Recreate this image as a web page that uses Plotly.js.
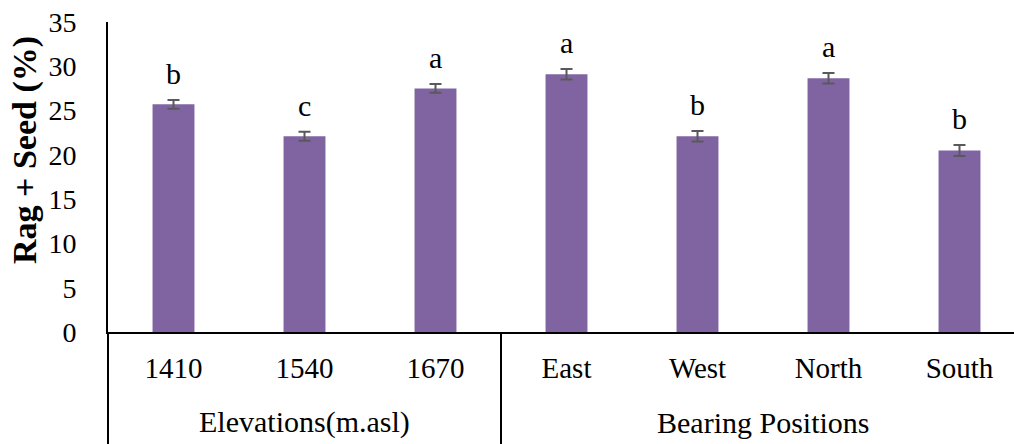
<!DOCTYPE html>
<html>
<head>
<meta charset="utf-8">
<script src="https://cdn.plot.ly/plotly-3.0.1.min.js"></script>
<style>html,body{margin:0;padding:0;background:#fff;}#chart{width:1014px;height:444px;}</style>
</head>
<body>
<div id="chart"></div>
<script>
const categories = ["1410", "1540", "1670", "East", "West", "North", "South"];
const values = [25.7, 22.1, 27.5, 29.1, 22.1, 28.65, 20.5];
const errors = [0.5, 0.5, 0.5, 0.6, 0.6, 0.6, 0.62];
const letters = ["b", "c", "a", "a", "b", "a", "b"];
const groups = ["Elevations(m.asl)", "Bearing Positions"];
const groupCenters = [1, 4.5];
const groupDivider = 2.5;

const FONT = "Liberation Serif";
const xIdx = categories.map((c, i) => i);

const trace = {
  type: "bar",
  x: xIdx,
  y: values,
  width: 0.32,
  marker: {color: "#8064A2"},
  error_y: {type: "data", array: errors, visible: true, color: "#595959", thickness: 2, width: 6},
  hoverinfo: "skip"
};

const annotations = [];
letters.forEach((l, i) => {
  annotations.push({
    x: i, y: values[i] + errors[i], xref: "x", yref: "y",
    text: l, showarrow: false, yanchor: "bottom", yshift: 8,
    font: {family: FONT, size: 30, color: "#000"}
  });
});
groups.forEach((g, i) => {
  annotations.push({
    x: groupCenters[i], y: 0, xref: "x", yref: "paper",
    text: g, showarrow: false, yanchor: "middle", yshift: -90,
    font: {family: FONT, size: 30, color: "#000"}
  });
});
annotations.push({
  x: 0, y: 0.587, xref: "paper", yref: "paper", xshift: -83,
  text: "<b>Rag + Seed (%)</b>", textangle: -90, showarrow: false,
  xanchor: "center", yanchor: "middle",
  font: {family: FONT, size: 34, color: "#000"}
});

const layout = {
  width: 1014, height: 444,
  margin: {l: 108, r: 0, t: 22, b: 112},
  paper_bgcolor: "#fff", plot_bgcolor: "#fff",
  showlegend: false,
  font: {family: FONT, color: "#000"},
  xaxis: {
    range: [-0.5, 6.416],
    tickvals: xIdx, ticktext: categories,
    showgrid: false, zeroline: false,
    showline: true, linecolor: "#000", linewidth: 2,
    ticks: "", ticklabelstandoff: 9,
    tickfont: {family: FONT, size: 29, color: "#000"}
  },
  yaxis: {
    range: [0, 35], dtick: 5, tick0: 0,
    showgrid: false, zeroline: false,
    showline: true, linecolor: "#000", linewidth: 2,
    ticks: "", ticklabelstandoff: 24,
    tickfont: {family: FONT, size: 28, color: "#000"}
  },
  shapes: [
    {type: "line", xref: "paper", yref: "paper", x0: 0, x1: 0, y0: 0, y1: -0.37, line: {color: "#000", width: 2}},
    {type: "line", xref: "x", yref: "paper", x0: groupDivider, x1: groupDivider, y0: 0, y1: -0.37, line: {color: "#000", width: 2}}
  ],
  annotations: annotations
};

Plotly.newPlot("chart", [trace], layout, {displayModeBar: false, staticPlot: true});
</script>
</body>
</html>
